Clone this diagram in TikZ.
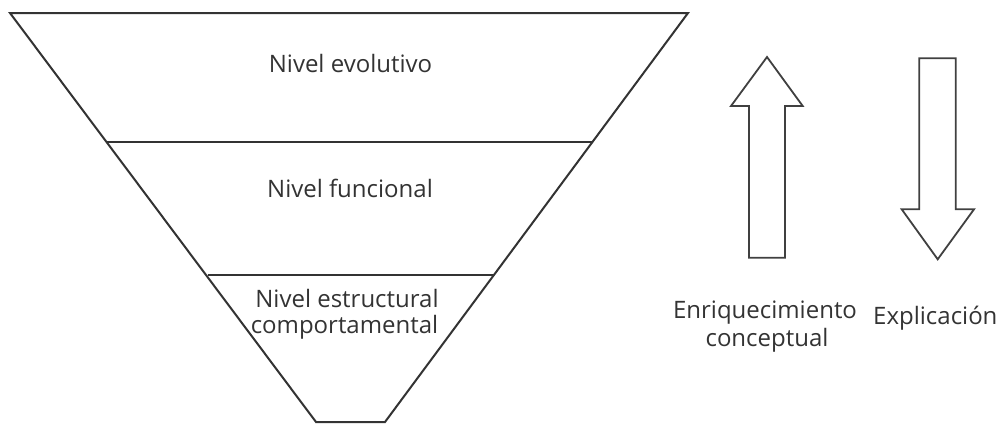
\documentclass[tikz,border=0pt]{standalone}
\usepackage{fontspec}
\setmainfont{Open Sans}
\begin{document}
\begin{tikzpicture}[x=1pt,y=-1pt,
  edge/.style={draw=black!80, line width=2pt, line join=miter},
  arrowshape/.style={draw=black!75, line width=1.8pt, fill=white, line join=miter},
  lbl/.style={anchor=base, inner sep=0pt, text=black!80, font=\fontsize{24}{28}\selectfont}]
\useasboundingbox (0,0) rectangle (1003,423);
% trapezoid corners
\coordinate (tl) at (10,13);
\coordinate (tr) at (688,13);
\coordinate (bl) at (316,422);
\coordinate (br) at (385,422);
\coordinate (l1) at (106.5,142);
\coordinate (r1) at (592.4,142);
\coordinate (l2) at (207.5,275);
\coordinate (r2) at (493.4,275);
\draw[edge] (tl) -- (tr) -- (br) -- (bl) -- cycle;
\draw[edge] (l1) -- (r1);
\draw[edge] (l2) -- (r2);
% labels
\node[lbl] (evo) at (350.5,72) {Nivel evolutivo};
\node[lbl] (fun) at (350,197) {Nivel funcional};
\node[lbl] (est) at (347,307) {Nivel estructural};
\node[lbl] (com) at (344.5,333) {comportamental};
% up arrow
\draw[arrowshape] (767,57) -- (802.7,106) -- (785,106) -- (785,257.7) -- (749,257.7) -- (749,106) -- (731,106) -- cycle;
% down arrow
\draw[arrowshape] (919.3,58.3) -- (955.7,58.3) -- (955.7,209.3) -- (974,209.3) -- (937.7,259.3) -- (901.7,209.3) -- (919.3,209.3) -- cycle;
\node[lbl] (enr) at (765,318) {Enriquecimiento};
\node[lbl] (con) at (767,346) {conceptual};
\node[lbl, anchor=base west] (exp) at (873,324) {Explicación};
\end{tikzpicture}
\end{document}
